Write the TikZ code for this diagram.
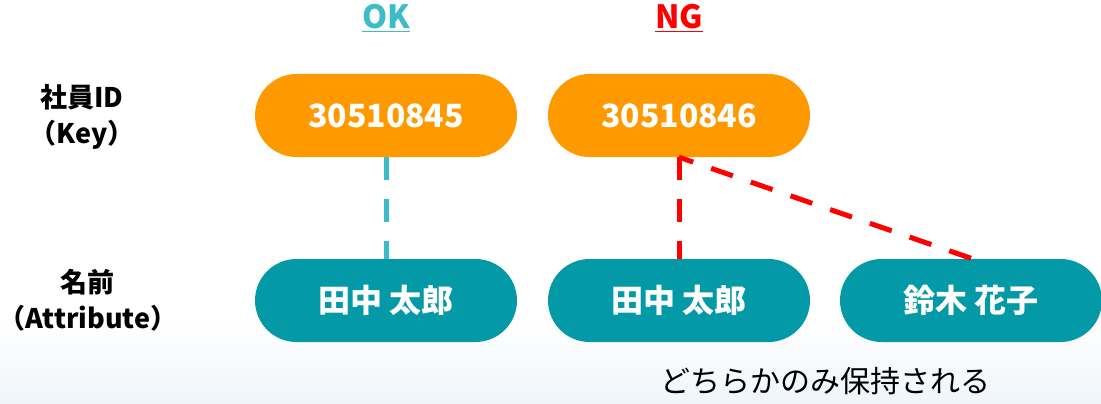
\documentclass[tikz,border=0pt]{standalone}
\usepackage{fontspec}
\setmainfont{Noto Sans CJK JP}
\definecolor{keyor}{HTML}{FF9900}
\definecolor{attr}{HTML}{0399A6}
\definecolor{okc}{HTML}{3DBBC9}
\definecolor{ngc}{HTML}{FF0000}
\definecolor{bgb}{HTML}{EFF5FA}
\begin{document}
\begin{tikzpicture}[x=1pt,y=-1pt,
  pill/.style={minimum width=262pt,minimum height=83pt,rounded corners=41.5pt,inner sep=0pt,text=white,font=\bfseries\fontsize{32}{36}\selectfont},
  keybox/.style={pill,fill=keyor},
  attrbox/.style={pill,fill=attr},
  lbl/.style={align=center,inner sep=0pt,font=\bfseries\fontsize{27}{36}\selectfont},
  hdr/.style={font=\bfseries\fontsize{32}{36}\selectfont},
  link/.style={line width=5pt,dash pattern=on 23pt off 19pt}]
\useasboundingbox (0,0) rectangle (1101,404);
\shade[top color=white,bottom color=bgb] (0,320) rectangle (1101,404);
\node[hdr,text=okc] (ok) at (386,18) {\underline{OK}};
\node[hdr,text=ngc] (ng) at (679,18) {\underline{NG}};
\node[lbl] (keyl) at (82,117) {社員ID\\（Key）};
\node[lbl] (attrl) at (88,300) {名前\\（Attribute）};
\node[keybox] (k1) at (386,115.5) {30510845};
\node[keybox] (k2) at (679,115.5) {30510846};
\node[attrbox] (a1) at (386,300.5) {田中 太郎};
\node[attrbox] (a2) at (679,300.5) {田中 太郎};
\node[attrbox] (a3) at (971,300.5) {鈴木 花子};
\coordinate (d3) at (973,259);
\draw[link,okc] (k1.south) -- (a1.north);
\draw[link,ngc] (k2.south) -- (a2.north);
\draw[link,ngc,dash phase=8pt] (k2.south) -- (d3);
\node[font=\fontsize{30}{34}\selectfont] (note) at (825,381) {どちらかのみ保持される};
\end{tikzpicture}
\end{document}
